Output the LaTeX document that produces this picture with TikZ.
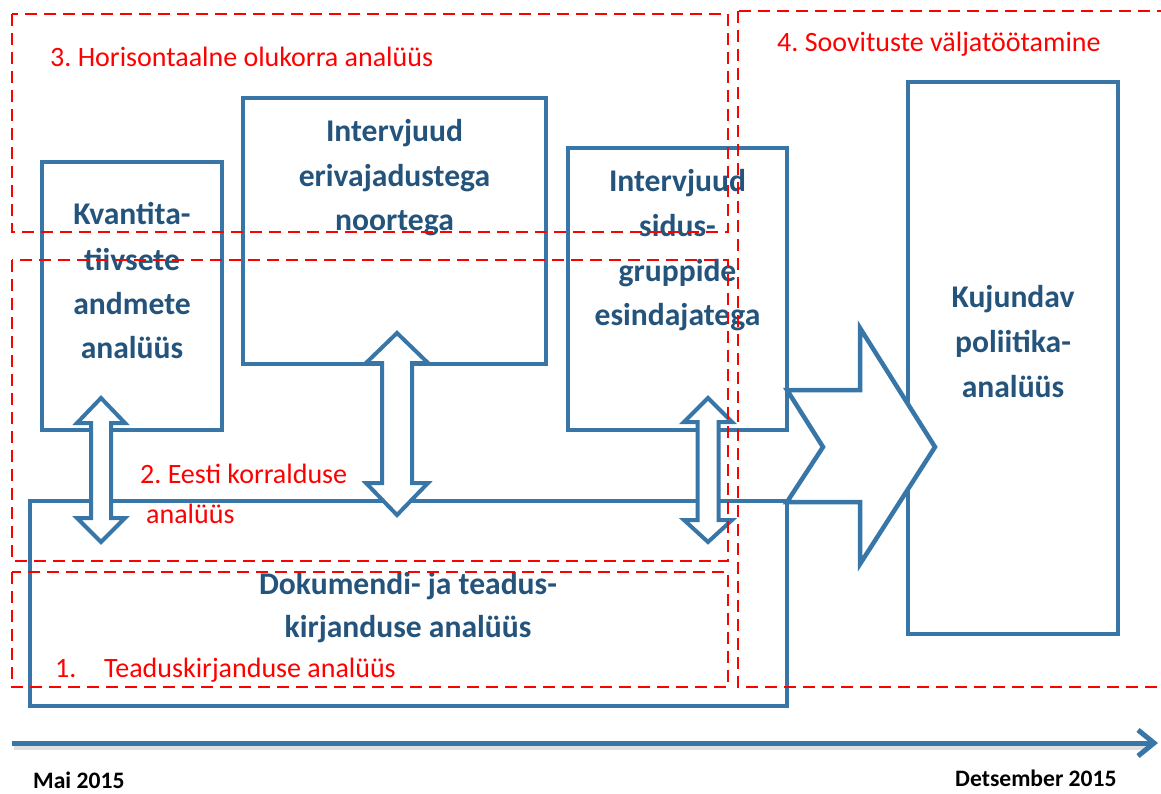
\documentclass[tikz,border=0pt]{standalone}
\usepackage{fontspec}
\setmainfont{Carlito}
\usetikzlibrary{arrows.meta}
\frenchspacing
\definecolor{boxblue}{RGB}{56,118,168}
\definecolor{txtblue}{RGB}{36,84,124}
\definecolor{dashred}{RGB}{255,0,0}
\tikzset{
  bluebox/.style={draw=boxblue, line width=4.5pt, fill=white, line join=miter, inner sep=0pt, outer sep=0pt},
  bigarrow/.style={draw=boxblue, line width=4.5pt, fill=white, line join=miter},
  dblarrow/.style={draw=boxblue, line width=4pt, fill=white, line join=miter},
  redzone/.style={draw=dashred, line width=2.9pt, dash pattern=on 12pt off 7pt},
  redlabel/.style={text=dashred, font=\fontsize{28}{33}\selectfont, anchor=base west, inner sep=0pt},
  bluelabel/.style={text=txtblue, font=\fontsize{31.6}{38}\selectfont\bfseries, anchor=base, inner sep=0pt},
  datelabel/.style={text=black, font=\fontsize{23.6}{28}\selectfont\bfseries, anchor=base west, inner sep=0pt},
  timeline/.style={draw=boxblue, line width=5pt, -{Straight Barb[length=16pt,width=26pt]}},
}
\begin{document}
\begin{tikzpicture}[x=1pt,y=-1pt]
\useasboundingbox (0,0) rectangle (1161,794);

% blue boxes
\node[bluebox, minimum width=210pt, minimum height=552pt] (kuj) at (1013,358) {};
\node[bluebox, minimum width=757pt, minimum height=205pt] (dok) at (408.5,603.5) {};
\node[bluebox, minimum width=219pt, minimum height=282pt] (sid) at (677.5,289) {};
\node[bluebox, minimum width=180pt, minimum height=268pt] (kv) at (132,296) {};
\node[bluebox, minimum width=303pt, minimum height=266pt] (intv) at (394.5,231) {};

% big notched arrow towards the policy analysis
\draw[bigarrow] (787,390) -- (860,390) -- (860,328) -- (935,447) -- (860,564)
  -- (860,502) -- (787,502) -- (823,447) -- cycle;

% double arrows
\draw[dblarrow] (101,398) -- (125,423) -- (111,423) -- (111,518) -- (125,518) -- (101,542)
  -- (77,518) -- (91,518) -- (91,423) -- (77,423) -- cycle;
\draw[dblarrow] (397,333) -- (428,363) -- (412,363) -- (412,483) -- (428,483) -- (397,515)
  -- (366,483) -- (382,483) -- (382,363) -- (366,363) -- cycle;
\draw[dblarrow] (708,398) -- (732,422) -- (718.5,422) -- (718.5,520) -- (732,520) -- (708,542)
  -- (684,520) -- (697.5,520) -- (697.5,422) -- (684,422) -- cycle;

% blue texts
\node[bluelabel] (kv1) at (132,225) {Kvantita-};
\node[bluelabel] (kv2) at (132,270) {tiivsete};
\node[bluelabel] (kv3) at (132,314) {andmete};
\node[bluelabel] (kv4) at (132,358) {analüüs};

\node[bluelabel] (in1) at (394.5,142) {Intervjuud};
\node[bluelabel] (in2) at (394.5,187) {erivajadustega};
\node[bluelabel] (in3) at (394.5,231) {noortega};

\node[bluelabel] (si1) at (677.5,192) {Intervjuud};
\node[bluelabel] (si2) at (677.5,237) {sidus-};
\node[bluelabel] (si3) at (677.5,281) {gruppide};
\node[bluelabel] (si4) at (677.5,325) {esindajatega};

\node[bluelabel] (ku1) at (1013,307) {Kujundav};
\node[bluelabel] (ku2) at (1013,352) {poliitika-};
\node[bluelabel] (ku3) at (1013,397) {analüüs};

\node[bluelabel] (do1) at (408,594) {Dokumendi- ja teadus-};
\node[bluelabel] (do2) at (408,637) {kirjanduse analüüs};

% timeline
\draw[line width=5pt, black!12] (14,747.5) -- (1150,747.5);
\coordinate (t0) at (12,743);
\coordinate (t1) at (1158,743);
\draw[timeline] (t0) -- (t1);
\node[datelabel] (mai) at (33,788) {Mai 2015};
\node[datelabel] (dets) at (955,786) {Detsember 2015};

% red dashed zones
\draw[redzone] (12,14) rectangle (728,232);
\draw[redzone] (738,11) rectangle (1180,687);
\draw[redzone] (12,260) rectangle (728,561);
\draw[redzone] (12,572) rectangle (728,687);

\node[redlabel] (z3) at (50,67) {3. Horisontaalne olukorra analüüs};
\node[redlabel] (z4) at (777,52) {4. Soovituste väljatöötamine};
\node[redlabel] (z2a) at (140,483) {2. Eesti korralduse};
\node[redlabel] (z2b) at (146,523) {analüüs};
\node[redlabel] (z1a) at (55,677) {1.};
\node[redlabel] (z1b) at (104,677) {Teaduskirjanduse analüüs};
\end{tikzpicture}
\end{document}
